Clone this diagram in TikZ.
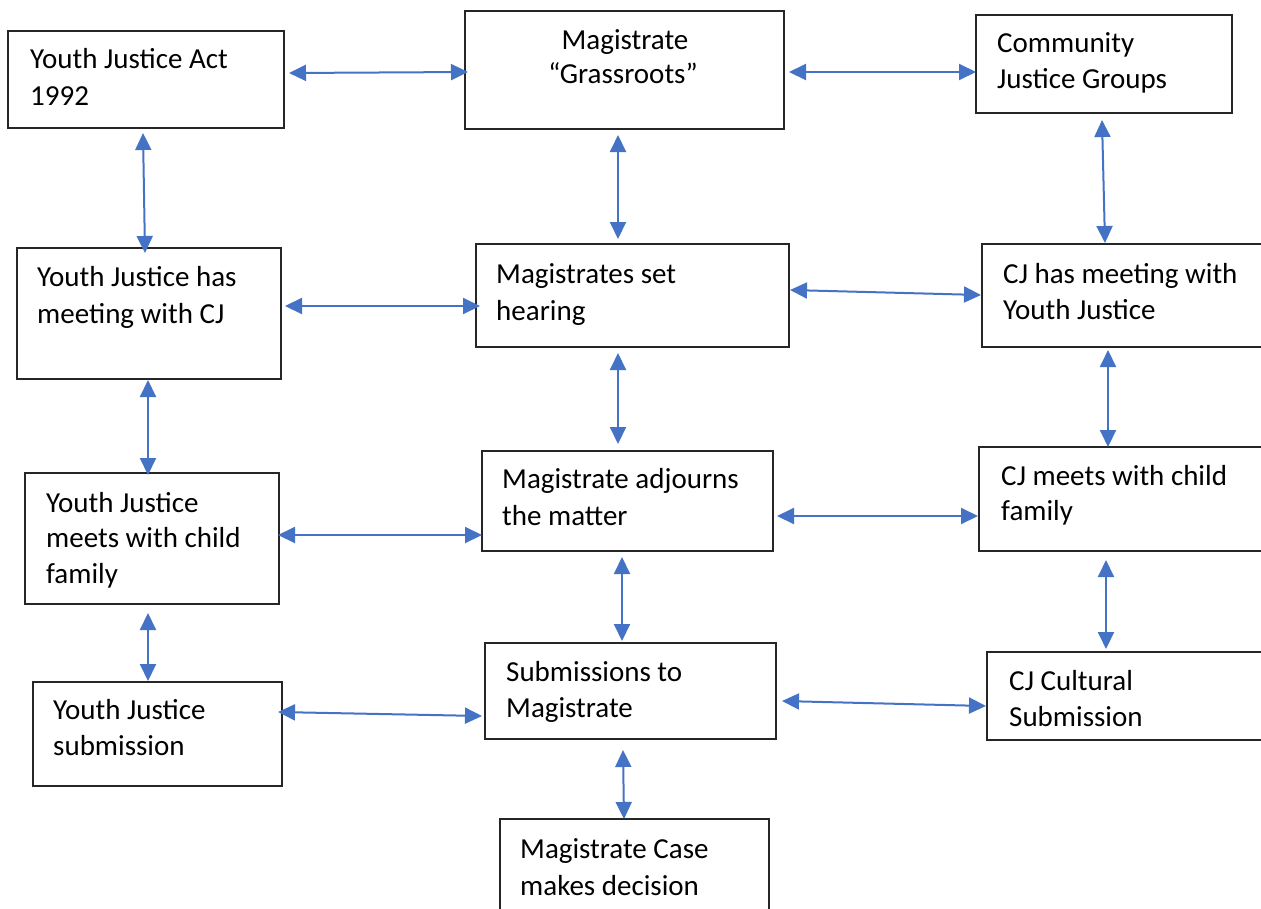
\documentclass[tikz,border=0pt]{standalone}
\usepackage{fontspec}
\setmainfont{Carlito}
\usetikzlibrary{arrows.meta,calc}
\definecolor{arrblue}{HTML}{4472C4}
\definecolor{boxline}{HTML}{262626}
\newcommand\mkbox[5]{\node[box,minimum width={(#4-#2)*1pt},minimum height={(#5-#3)*1pt}] (#1) at (#2,#3) {};}
\begin{document}
\begin{tikzpicture}[x=1pt,y=-1pt,
  box/.style={draw=boxline,line width=1.8pt,inner sep=0pt,outer sep=0pt,anchor=north west,fill=white},
  txt/.style={anchor=base west,inner sep=0pt,font=\fontsize{29}{35}\selectfont},
  ctxt/.style={anchor=base,inner sep=0pt,font=\fontsize{29}{35}\selectfont},
  conn/.style={draw=arrblue,line width=2pt,{Triangle[length=17pt,width=16pt]}-{Triangle[length=17pt,width=16pt]}}]
\useasboundingbox (0,0) rectangle (1261,908);
\clip (0,0) rectangle (1261,908);
\fill[white] (0,0) rectangle (1261,908);
% boxes
\mkbox{n1}{8}{31}{284}{128}
\mkbox{n2}{465}{11}{784}{129}
\mkbox{n3}{976}{15}{1232}{113}
\mkbox{n4}{17}{248}{281}{379}
\mkbox{n5}{476}{244}{789}{347}
\mkbox{n6}{982}{244}{1266}{347}
\mkbox{n7}{25}{473}{279}{604}
\mkbox{n8}{482}{451}{773}{551}
\mkbox{n9}{979}{447}{1266}{551}
\mkbox{n10}{33}{682}{282}{786}
\mkbox{n11}{485}{643}{776}{739}
\mkbox{n12}{987}{652}{1266}{740}
\mkbox{n13}{500}{819}{769}{930}
% texts
\node[txt] (t1a) at (30,68) {Youth Justice Act};
\node[txt] (t1b) at (30,105) {1992};
\node[ctxt] (t2a) at (625,49) {Magistrate};
\node[ctxt] (t2b) at (623,83) {“Grassroots”};
\node[txt] (t3a) at (997,52) {Community};
\node[txt] (t3b) at (997,88) {Justice Groups};
\node[txt] (t4a) at (37,286) {Youth Justice has};
\node[txt] (t4b) at (37,323) {meeting with CJ};
\node[txt] (t5a) at (496,283) {Magistrates set};
\node[txt] (t5b) at (496,320) {hearing};
\node[txt] (t6a) at (1003,283) {CJ has meeting with};
\node[txt] (t6b) at (1003,319) {Youth Justice};
\node[txt] (t7a) at (46,512) {Youth Justice};
\node[txt] (t7b) at (46,547) {meets with child};
\node[txt] (t7c) at (46,583) {family};
\node[txt] (t8a) at (502,488) {Magistrate adjourns};
\node[txt] (t8b) at (502,525) {the matter};
\node[txt] (t9a) at (1001,485) {CJ meets with child};
\node[txt] (t9b) at (1001,520) {family};
\node[txt] (t10a) at (53,719) {Youth Justice};
\node[txt] (t10b) at (53,755) {submission};
\node[txt] (t11a) at (506,681) {Submissions to};
\node[txt] (t11b) at (506,717) {Magistrate};
\node[txt] (t12a) at (1009,690) {CJ Cultural};
\node[txt] (t12b) at (1009,726) {Submission};
\node[txt] (t13a) at (520,858) {Magistrate Case};
\node[txt] (t13b) at (520,895) {makes decision};
% connectors
\draw[conn] ($(n1.east |- 0,73)+(5,0)$) -- ($(n2.west |- 0,72)+(3,0)$);
\draw[conn] ($(n2.east |- 0,72)+(5,0)$) -- ($(n3.west |- 0,72)+(0,0)$);
\draw[conn] ($(n1.south -| 143,0)+(0,5)$) -- ($(n4.north -| 145,0)+(0,5)$);
\draw[conn] ($(n2.south -| 618,0)+(0,6)$) -- ($(n5.north -| 618,0)+(0,-5)$);
\draw[conn] ($(n3.south -| 1102,0)+(0,7)$) -- ($(n6.north -| 1105,0)+(0,-1)$);
\draw[conn] ($(n4.east |- 0,306)+(4,0)$) -- ($(n5.west |- 0,306)+(4,0)$);
\draw[conn] ($(n5.east |- 0,290)+(1,0)$) -- ($(n6.west |- 0,295)+(-1,0)$);
\draw[conn] ($(n4.south -| 148,0)+(0,1)$) -- ($(n7.north -| 148,0)+(0,2)$);
\draw[conn] ($(n5.south -| 618,0)+(0,6)$) -- ($(n8.north -| 618,0)+(0,-7)$);
\draw[conn] ($(n6.south -| 1108,0)+(0,3)$) -- ($(n9.north -| 1108,0)+(0,0)$);
\draw[conn] ($(n7.east |- 0,535)+(-1,0)$) -- ($(n8.west |- 0,535)+(0,0)$);
\draw[conn] ($(n8.east |- 0,516)+(4,0)$) -- ($(n9.west |- 0,516)+(-1,0)$);
\draw[conn] ($(n7.south -| 148,0)+(0,9)$) -- ($(n10.north -| 148,0)+(0,-1)$);
\draw[conn] ($(n8.south -| 622,0)+(0,6)$) -- ($(n11.north -| 622,0)+(0,-2)$);
\draw[conn] ($(n9.south -| 1106,0)+(0,9)$) -- ($(n12.north -| 1106,0)+(0,-3)$);
\draw[conn] ($(n10.east |- 0,712)+(-4,0)$) -- ($(n11.west |- 0,716)+(-3,0)$);
\draw[conn] ($(n11.east |- 0,701)+(6,0)$) -- ($(n12.west |- 0,706)+(-1,0)$);
\draw[conn] ($(n11.south -| 623,0)+(0,11)$) -- ($(n13.north -| 624,0)+(0,0)$);
\end{tikzpicture}
\end{document}
